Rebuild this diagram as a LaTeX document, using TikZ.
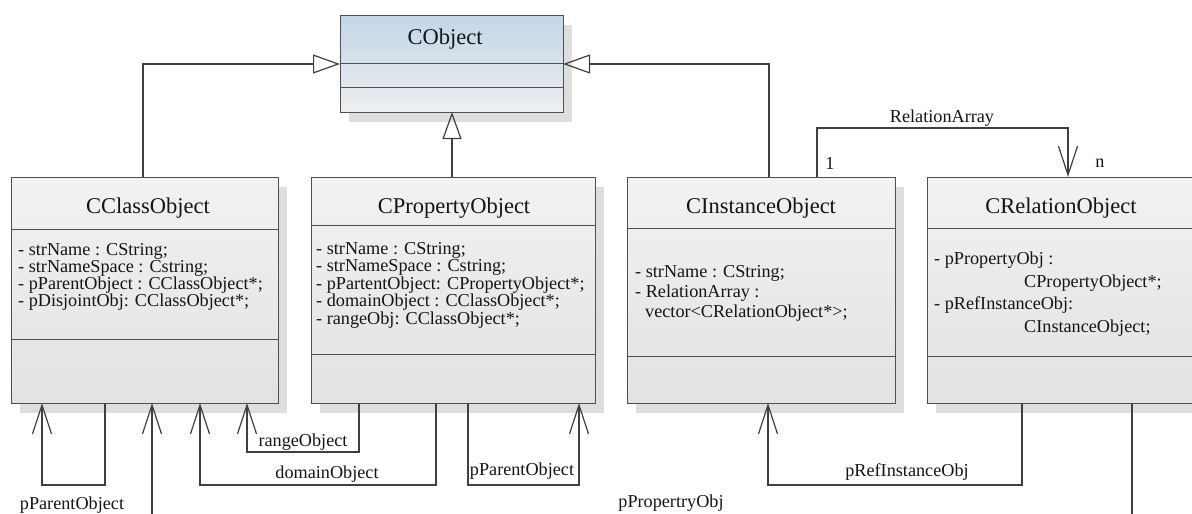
\documentclass[tikz,border=0pt]{standalone}
\usepackage{fontspec}
\setmainfont{Liberation Serif}
\newfontfamily\umlserif{Liberation Serif}
\usetikzlibrary{arrows.meta,calc,shadows}

\definecolor{ink}{HTML}{404040}
\definecolor{boxline}{HTML}{505050}
\definecolor{boxtop}{HTML}{F2F2F2}
\definecolor{boxbot}{HTML}{E2E2E2}
\definecolor{shade}{HTML}{DEDEDE}
\definecolor{bluetop}{HTML}{C2D6E8}
\definecolor{greybot}{HTML}{EEEEEE}
\definecolor{txt}{HTML}{151515}

\tikzset{
  boxbase/.style={draw=boxline, line width=1pt, rectangle, anchor=north west,
    inner sep=0pt, outer sep=0pt,
    drop shadow={shadow xshift=9pt, shadow yshift=-10pt, fill=shade, draw=none, opacity=1}},
  classbox/.style={boxbase, top color=boxtop, bottom color=boxbot},
  rootbox/.style={boxbase, top color=bluetop, bottom color=greybot},
  divider/.style={draw=boxline, line width=1pt},
  title/.style={anchor=base, inner sep=0pt, text=txt, font=\umlserif\fontsize{22.5}{26}\selectfont},
  attr/.style={anchor=base west, inner sep=0pt, text=txt, font=\umlserif\fontsize{18.2}{20}\selectfont},
  lbl/.style={anchor=base, inner sep=0pt, text=txt, font=\umlserif\fontsize{18.2}{20}\selectfont},
  conn/.style={draw=ink, line width=1.2pt},
  gen/.style={conn, -{Triangle[open, length=27pt, width=19pt, line width=1.2pt]}},
  assoc/.style={conn, -{Straight Barb[length=29pt, width=19pt, line width=1.2pt]}},
}

\begin{document}
\begin{tikzpicture}[x=1pt, y=-1pt]
\useasboundingbox (0,0) rectangle (1192,514);
\begin{scope}
\clip (0,0) rectangle (1192,514);

% ---- class boxes ----
\node[rootbox,  minimum width=223pt, minimum height=97pt]  (obj)  at (340,15)  {};
\node[classbox, minimum width=267pt, minimum height=226pt] (cls)  at (11,177)  {};
\node[classbox, minimum width=284pt, minimum height=226pt] (prop) at (311,177) {};
\node[classbox, minimum width=268pt, minimum height=226pt] (inst) at (627,177) {};
\node[classbox, minimum width=268pt, minimum height=226pt] (rel)  at (927,177) {};

% ---- compartment dividers ----
\draw[divider] ($(obj.north west)+(0,48)$) -- ($(obj.north east)+(0,48)$);
\draw[divider] ($(obj.north west)+(0,72)$) -- ($(obj.north east)+(0,72)$);
\draw[divider] ($(cls.north west)+(0,52)$) -- ($(cls.north east)+(0,52)$);
\draw[divider] ($(cls.north west)+(0,162)$) -- ($(cls.north east)+(0,162)$);
\draw[divider] ($(prop.north west)+(0,48)$) -- ($(prop.north east)+(0,48)$);
\draw[divider] ($(prop.north west)+(0,177)$) -- ($(prop.north east)+(0,177)$);
\draw[divider] ($(inst.north west)+(0,51)$) -- ($(inst.north east)+(0,51)$);
\draw[divider] ($(inst.north west)+(0,179)$) -- ($(inst.north east)+(0,179)$);
\draw[divider] ($(rel.north west)+(0,51)$) -- ($(rel.north east)+(0,51)$);
\draw[divider] ($(rel.north west)+(0,179)$) -- ($(rel.north east)+(0,179)$);

% ---- class names ----
\node[title] (tobj)  at (445,45)  {CObject};
\node[title] (tcls)  at (148,213) {CClassObject};
\node[title] (tprop) at (454,213) {CPropertyObject};
\node[title] (tinst) at (761,213) {CInstanceObject};
\node[title] (trel)  at (1061,213) {CRelationObject};

% ---- attributes ----
\node[attr] (ca1) at (18,255) {- strName : CString;};
\node[attr] (ca2) at (18,272) {- strNameSpace : Cstring;};
\node[attr] (ca3) at (18,289) {- pParentObject : CClassObject*;};
\node[attr] (ca4) at (18,306) {- pDisjointObj: CClassObject*;};

\node[attr] (pa1) at (316,254)   {- strName : CString;};
\node[attr] (pa2) at (316,271.5) {- strNameSpace : Cstring;};
\node[attr] (pa3) at (316,289)   {- pPartentObject: CPropertyObject*;};
\node[attr] (pa4) at (316,306.5) {- domainObject : CClassObject*;};
\node[attr] (pa5) at (316,324)   {- rangeObj: CClassObject*;};

\node[attr] (ia1) at (635,277) {- strName : CString;};
\node[attr] (ia2) at (635,297) {- RelationArray :};
\node[attr] (ia3) at (645,317) {vector<CRelationObject*>;};

\node[attr] (ra1) at (934,264)  {- pPropertyObj :};
\node[attr] (ra2) at (1024,287) {CPropertyObject*;};
\node[attr] (ra3) at (934,309)  {- pRefInstanceObj:};
\node[attr] (ra4) at (1024,332) {CInstanceObject;};

% ---- connector ports ----
\coordinate (gcls)  at ($(cls.north west)+(132,0)$);
\coordinate (gprop) at ($(prop.north west)+(141,0)$);
\coordinate (ginst) at ($(inst.north west)+(142,0)$);
\coordinate (objl)  at ($(obj.north west)+(0,49)$);
\coordinate (objr)  at ($(obj.north east)+(0,49)$);
\coordinate (rsrc)  at ($(inst.north west)+(190,0)$);
\coordinate (rdst)  at ($(rel.north west)+(141,0)$);

% ---- generalizations ----
\draw[gen] (gcls) |- (objl);
\draw[gen] (gprop) -- (gprop |- obj.south);
\draw[gen] (ginst) |- (objr);

% ---- RelationArray association ----
\draw[assoc] (rsrc) -- ++(0,-49) -| (rdst);
\node[lbl] (lra) at (942,122) {RelationArray};
\node[lbl] (lone) at (830,169) {1};
\node[lbl] (lnn) at (1100,167) {n};

% ---- associations below the classes ----
\draw[assoc] ($(cls.south west)+(94,0)$)   -- ++(0,82)  -| ($(cls.south west)+(31,0)$);
\draw[assoc] ($(rel.south west)+(205,0)$)  -- ++(0,130) -| ($(cls.south west)+(141,0)$);
\draw[assoc] ($(prop.south west)+(125,0)$) -- ++(0,82)  -| ($(cls.south west)+(189,0)$);
\draw[assoc] ($(prop.south west)+(48,0)$)  -- ++(0,49)  -| ($(cls.south west)+(236,0)$);
\draw[assoc] ($(prop.south west)+(157,0)$) -- ++(0,82)  -| ($(prop.south west)+(268,0)$);
\draw[assoc] ($(rel.south west)+(95,0)$)   -- ++(0,82)  -| ($(inst.south west)+(141,0)$);

\node[lbl] (lpc) at (72,509)  {pParentObject};
\node[lbl] (lrg) at (303,446) {rangeObject};
\node[lbl] (ldm) at (327,478) {domainObject};
\node[lbl] (lpp) at (522,475) {pParentObject};
\node[lbl] (lri) at (907,476) {pRefInstanceObj};
\node[lbl] (lpo) at (671,507) {pPropertryObj};

\end{scope}
\end{tikzpicture}
\end{document}
